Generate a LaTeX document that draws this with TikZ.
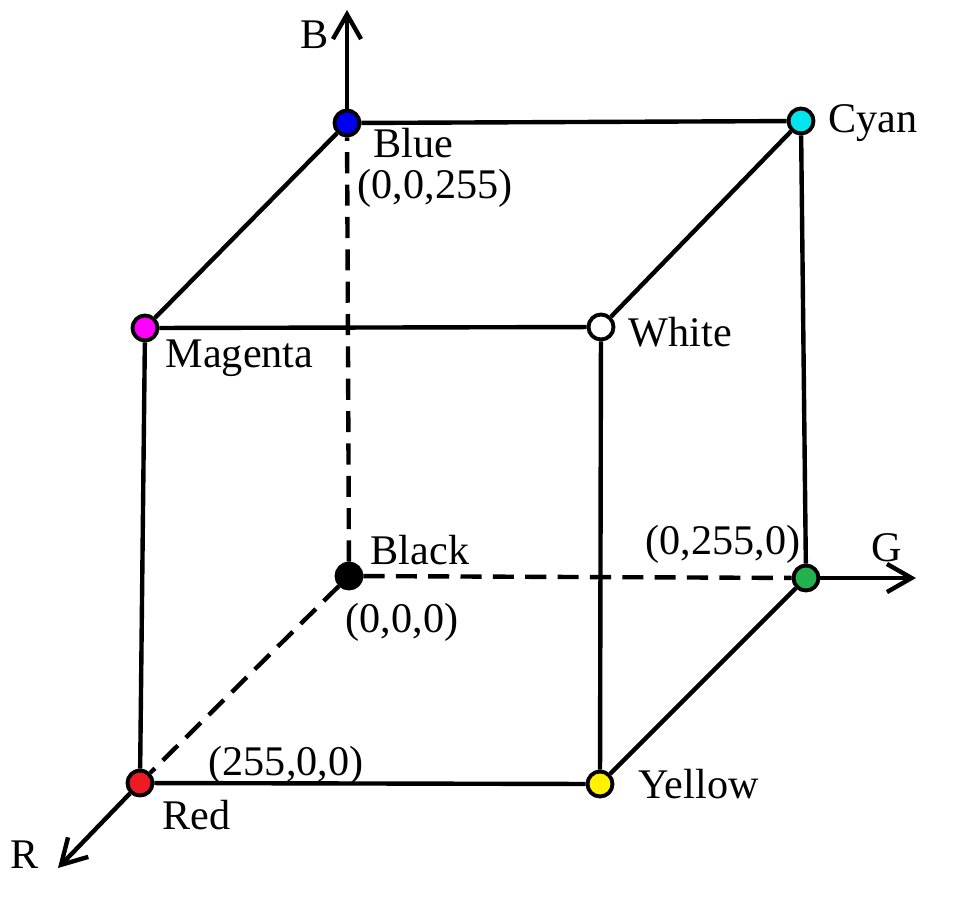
\documentclass[tikz,border=0pt]{standalone}
\usepackage{fontspec}
\setmainfont{Liberation Serif}
\usetikzlibrary{arrows.meta}
\definecolor{cBlue}{RGB}{0,0,240}
\definecolor{cCyan}{RGB}{0,230,240}
\definecolor{cMagenta}{RGB}{255,0,255}
\definecolor{cGreen}{RGB}{34,177,76}
\definecolor{cRed}{RGB}{237,28,36}
\definecolor{cYellow}{RGB}{255,242,0}
\begin{document}
\begin{tikzpicture}[x=0.01cm, y=-0.01cm,
  pt/.style={circle, draw=black, line width=1.1pt, minimum size=0.25cm, inner sep=0pt},
  edge/.style={line width=1.25pt},
  hid/.style={line width=1.25pt, dash pattern=on 6pt off 3.2pt},
  axis/.style={line width=1.25pt, -{Straight Barb[length=7pt,width=8pt,line width=1.25pt]}},
  lbl/.style={font=\fontsize{12}{14}\selectfont, anchor=west, inner sep=0pt}]
  \useasboundingbox (0,0) rectangle (960,899);
  % axis ends
  \coordinate (bend) at (347,10);
  \coordinate (gend) at (916,578);
  \coordinate (rend) at (58,868);
  % corners of the cube
  \node[pt, fill=black] (black) at (349,576) {};
  \node[pt, fill=cBlue] (blue) at (347,123) {};
  \node[pt, fill=cGreen] (green) at (806,578) {};
  \node[pt, fill=cCyan] (cyan) at (801,121) {};
  \node[pt, fill=cMagenta] (magenta) at (145,328) {};
  \node[pt, fill=white] (white) at (601,327) {};
  \node[pt, fill=cRed] (red) at (140,783) {};
  \node[pt, fill=cYellow] (yellow) at (600,784) {};
  % axes
  \draw[axis] (blue) -- (bend);
  \draw[axis] (green) -- (gend);
  \draw[axis] (red) -- (rend);
  % hidden edges
  \draw[hid] (black) -- (blue);
  \draw[hid] (black) -- (green);
  \draw[hid] (black) -- (red);
  % visible edges
  \draw[edge] (blue) -- (cyan);
  \draw[edge] (blue) -- (magenta);
  \draw[edge] (magenta) -- (white);
  \draw[edge] (cyan) -- (white);
  \draw[edge] (cyan) -- (green);
  \draw[edge] (magenta) -- (red);
  \draw[edge] (white) -- (yellow);
  \draw[edge] (red) -- (yellow);
  \draw[edge] (yellow) -- (green);
  % labels
  \node[lbl, anchor=center] (lb) at (315,35) {B};
  \node[lbl] (lblue) at (373,143) {Blue};
  \node[lbl] (lblue2) at (357,188) {(0,0,255)};
  \node[lbl] (lcyan) at (828,123) {Cyan};
  \node[lbl] (lmag) at (165,358) {Magenta};
  \node[lbl] (lwhite) at (628,332) {White};
  \node[lbl] (lblack) at (370,550) {Black};
  \node[lbl] (lblack2) at (345,622) {(0,0,0)};
  \node[lbl] (lgreen) at (645,544) {(0,255,0)};
  \node[lbl, anchor=center] (lg) at (887,548) {G};
  \node[lbl] (lred2) at (208,765) {(255,0,0)};
  \node[lbl] (lred) at (162,815) {Red};
  \node[lbl] (lyellow) at (638,784) {Yellow};
  \node[lbl, anchor=center] (lr) at (25,855) {R};
\end{tikzpicture}
\end{document}
